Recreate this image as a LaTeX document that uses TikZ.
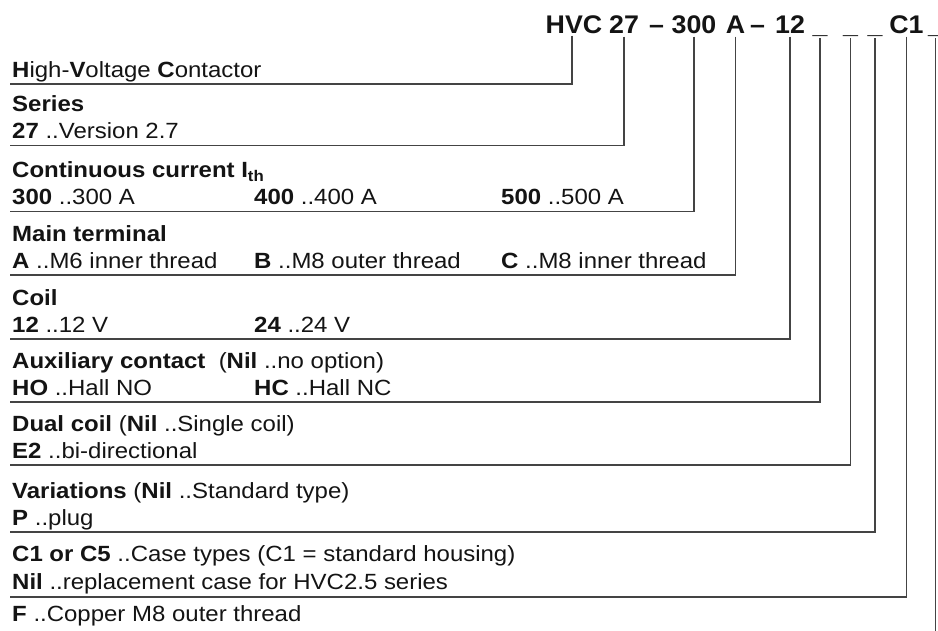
\documentclass[tikz,border=0pt]{standalone}
\usepackage{fontspec}
\setmainfont{Liberation Sans}[FakeStretch=1.09]
\newfontfamily\titlefont{Liberation Sans}[FakeStretch=1.05]
\definecolor{linegray}{RGB}{68,68,68}
\definecolor{txtblack}{RGB}{20,20,20}
\begin{document}
\begin{tikzpicture}[x=1pt,y=-1pt,
  txt/.style={anchor=base west,inner sep=0pt,text=txtblack,font=\fontsize{22}{26}\selectfont},
  code/.style={anchor=base,inner sep=0pt,text=txtblack,font=\titlefont\fontsize{25.5}{30}\selectfont\bfseries},
  conn/.style={line width=1.6pt,draw=linegray}]
\useasboundingbox[fill=white] (0,0) rectangle (938,630);

% code line
\node[code] (cHVC) at (574,33) {HVC};
\node[code] (c27) at (624,33) {27};
\node[code] (cd1) at (656.5,33) {\textendash};
\node[code] (c300) at (694,33) {300};
\node[code] (cA) at (735.5,33) {A};
\node[code] (cd2) at (757.5,33) {\textendash};
\node[code] (c12) at (790,33) {12};
\node[code] (u1) at (820,33) {\_};
\node[code] (u2) at (850.5,33) {\_};
\node[code] (u3) at (875,33) {\_};
\node[code] (cC1) at (906.5,33) {C1};
\node[code] (u4) at (935.5,33) {\_};

% line ends
\coordinate (l1) at (10,84);
\coordinate (l2) at (10,145.5);
\coordinate (l3) at (10,211.5);
\coordinate (l4) at (10,275);
\coordinate (l5) at (10,339);
\coordinate (l6) at (10,402);
\coordinate (l7) at (10,465);
\coordinate (l8) at (10,532);
\coordinate (l9) at (10,597);
\coordinate (l10) at (935.5,645);

% texts
\node[txt] (t1) at (12,77.5) {\textbf{H}igh-\textbf{V}oltage \textbf{C}ontactor};
\node[txt] (t2a) at (12,111) {\textbf{Series}};
\node[txt] (t2b) at (12,138.5) {\textbf{27} ..Version 2.7};
\node[txt] (t3a) at (12,177) {\textbf{Continuous current I\textsubscript{th}}};
\node[txt] (t3b) at (12,204.5) {\textbf{300} ..300 A};
\node[txt] (t3c) at (254,204.5) {\textbf{400} ..400 A};
\node[txt] (t3d) at (501,204.5) {\textbf{500} ..500 A};
\node[txt] (t4a) at (12,241) {\textbf{Main terminal}};
\node[txt] (t4b) at (12,268.5) {\textbf{A} ..M6 inner thread};
\node[txt] (t4c) at (254,268.5) {\textbf{B} ..M8 outer thread};
\node[txt] (t4d) at (501,268.5) {\textbf{C} ..M8 inner thread};
\node[txt] (t5a) at (12,305) {\textbf{Coil}};
\node[txt] (t5b) at (12,332.5) {\textbf{12} ..12 V};
\node[txt] (t5c) at (254,332.5) {\textbf{24} ..24 V};
\node[txt] (t6a) at (12,368) {\textbf{Auxiliary contact}\ \ (\textbf{Nil} ..no option)};
\node[txt] (t6b) at (12,395.5) {\textbf{HO} ..Hall NO};
\node[txt] (t6c) at (254,395.5) {\textbf{HC} ..Hall NC};
\node[txt] (t7a) at (12,431) {\textbf{Dual coil} (\textbf{Nil} ..Single coil)};
\node[txt] (t7b) at (12,458.5) {\textbf{E2} ..bi-directional};
\node[txt] (t8a) at (12,498) {\textbf{Variations} (\textbf{Nil} ..Standard type)};
\node[txt] (t8b) at (12,525.5) {\textbf{P} ..plug};
\node[txt] (t9a) at (12,561) {\textbf{C1 or C5} ..Case types (C1 = standard housing)};
\node[txt] (t9b) at (12,589) {\textbf{Nil} ..replacement case for HVC2.5 series};
\node[txt] (t10) at (12,621) {\textbf{F} ..Copper M8 outer thread};

% connectors
\draw[conn] ([xshift=-2pt,yshift=-2.5pt]cHVC.base) |- (l1);
\draw[conn] ([yshift=-3.5pt]c27.base) |- (l2);
\draw[conn] ([yshift=-3.5pt]c300.base) |- (l3);
\draw[conn] ([yshift=-3.5pt]cA.base) |- (l4);
\draw[conn] ([yshift=-3.5pt]c12.base) |- (l5);
\draw[conn] ([yshift=-5pt]u1.base) |- (l6);
\draw[conn] ([yshift=-5pt]u2.base) |- (l7);
\draw[conn] ([yshift=-5pt]u3.base) |- (l8);
\draw[conn] ([yshift=-3.5pt]cC1.base) |- (l9);
\draw[conn] ([yshift=-5pt]u4.base) -- (l10);
\end{tikzpicture}
\end{document}
